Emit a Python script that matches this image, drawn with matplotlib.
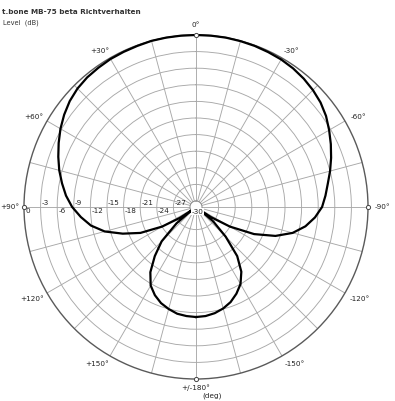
import numpy as np
import matplotlib
matplotlib.use("Agg")
import matplotlib.pyplot as plt
from matplotlib.transforms import offset_copy

# ---- data (angle in degrees, level in dB) ----
angles_left = [0, 5, 10, 15, 20, 25, 30, 35, 40, 45, 50, 55, 60, 65, 70, 75,
               80, 85, 90, 95, 100, 105, 110, 115, 120, 124, 127, 130, 135,
               140, 145, 150, 155, 160, 165, 170, 175, 180]
level_left = [0.0, 0.0, 0.0, 0.0, -0.1, -0.15, -0.2, -0.35, -0.5, -0.8, -1.3,
              -2.0, -2.8, -3.7, -4.6, -5.5, -6.5, -7.5, -8.7, -10.2, -11.8,
              -14.0, -17.0, -20.0, -24.0, -27.6, -30.0, -26.5, -22.3, -19.5,
              -16.7, -14.7, -13.5, -12.6, -12.0, -11.5, -11.3, -11.2]
angles_right = [-180, -175, -170, -165, -160, -155, -150, -145, -140, -135,
                -130, -127, -124, -120, -115, -110, -105, -100, -95, -90, -85,
                -80, -75, -70, -65, -60, -55, -50, -45, -40, -35, -30, -25,
                -20, -15, -10, -5]
level_right = [-11.2, -11.3, -11.6, -12.1, -12.8, -13.8, -15.0, -16.8, -19.5,
               -23.5, -27.0, -30.0, -27.8, -24.0, -19.5, -15.8, -13.0, -11.0,
               -9.5, -8.3, -7.6, -6.9, -6.0, -5.1, -4.2, -3.3, -2.4, -1.7,
               -1.2, -0.8, -0.5, -0.3, -0.2, -0.1, -0.05, 0.0, 0.0]

ring_levels = [0, -3, -6, -9, -12, -15, -18, -21, -24, -27, -30]
angle_ticks = [0, 30, 60, 90, 120, 150, 180, -150, -120, -90, -60, -30]
angle_names = ["0°", "+30°", "+60°", "+90°", "+120°", "+150°", "+/-180°",
               "-150°", "-120°", "-90°", "-60°", "-30°"]
title = "t.bone MB-75 beta Richtverhalten"
ylabel = "Level  (dB)"
unit = "(deg)"

plt.rcParams['font.family'] = ['DejaVu Sans']

W, H = 395, 401
fig = plt.figure(figsize=(W / 100, H / 100), dpi=100)
R = 172
cx, cy = 196, 207
ax = fig.add_axes([(cx - R) / W, (H - cy - R) / H, 2 * R / W, 2 * R / H],
                  projection='polar')
ax.set_theta_zero_location('N')
ax.set_theta_direction(1)
ax.set_rlim(-30, 0)
ax.set_rorigin(-30 / (1 - 6 / R))
ax.set_thetagrids(np.arange(0, 360, 15), labels=[])
ax.set_rgrids(np.arange(-27, 0, 3), labels=[])
ax.grid(True, color='#a8a8a8', lw=0.65)
ax.spines['polar'].set_color('#5a5a5a')
ax.spines['polar'].set_linewidth(1.0)
if 'inner' in ax.spines:
    ax.spines['inner'].set_color('#888888')
    ax.spines['inner'].set_linewidth(0.7)
ax.tick_params(pad=0, length=0)

# curve
ang = np.array(angles_right + angles_left + [angles_right[0]], dtype=float)
lev = np.array(level_right + level_left + [level_right[0]], dtype=float)
ax.plot(np.deg2rad(ang), np.clip(lev, -30, 0), color='black', lw=1.6,
        solid_joinstyle='round', clip_on=False, zorder=5)

# markers on outer ring
for a in [0, 90, -90, 180]:
    ax.plot(np.deg2rad(a), 0, 'o', ms=3, mfc='white', mec='#444444',
            mew=0.7, clip_on=False, zorder=6)

fs = 5.2
tc = '#222222'


def otext(theta, r, s, dx, dy, **kw):
    tr = offset_copy(ax.transData, fig=fig, x=dx, y=dy, units='points')
    ax.text(theta, r, s, transform=tr, fontsize=fs, color=tc, clip_on=False,
            **kw)


# angle labels (label angle shift, radius in dB units beyond the rim)
label_place = {30: (1.6, 2.0), -30: (-1.6, 2.0), 60: (1.0, 2.5),
               -60: (-1.0, 2.5), 120: (-0.7, 2.9), -120: (0.7, 2.9),
               150: (-2.2, 2.45), -150: (2.2, 2.45)}
for a, name in zip(angle_ticks, angle_names):
    th = np.deg2rad(a)
    if a == 0:
        otext(th, 0, name, 0, 5, ha='center', va='bottom')
    elif a == 90:
        otext(th, 0, name, -3.5, 0, ha='right', va='center')
    elif a == -90:
        otext(th, 0, name, 4.5, 0, ha='left', va='center')
    elif a == 180:
        otext(th, 0, name, 0, -4, ha='center', va='top')
        otext(th, 0, unit, 11.5, -10, ha='center', va='top')
    else:
        da, rr = label_place[a]
        ax.text(np.deg2rad(a + da), rr, name, ha='center', va='center',
                fontsize=fs, color=tc, clip_on=False)

# level labels along +90 axis
for i, lv in enumerate(ring_levels):
    txt = f"{lv}"
    th = np.deg2rad(90)
    if lv == -30:
        otext(th, lv, txt, 5.6, -1.2, ha='center', va='top', zorder=8,
              bbox=dict(boxstyle='square,pad=0.05', fc='white', ec='none'))
    elif i % 2 == 0:
        otext(th, lv, txt, 0.8, -0.8, ha='left', va='top', zorder=7)
    else:
        otext(th, lv, txt, 0.8, 0.8, ha='left', va='bottom', zorder=7)

fig.text(2 / W, 1 - 12 / H, title, ha='left', va='center', fontsize=5.2,
         fontweight='bold', color='#333333')
fig.text(3 / W, 1 - 23 / H, ylabel, ha='left', va='center', fontsize=4.8,
         color='#333333')

fig.savefig('out.png', dpi=100, facecolor='white')
